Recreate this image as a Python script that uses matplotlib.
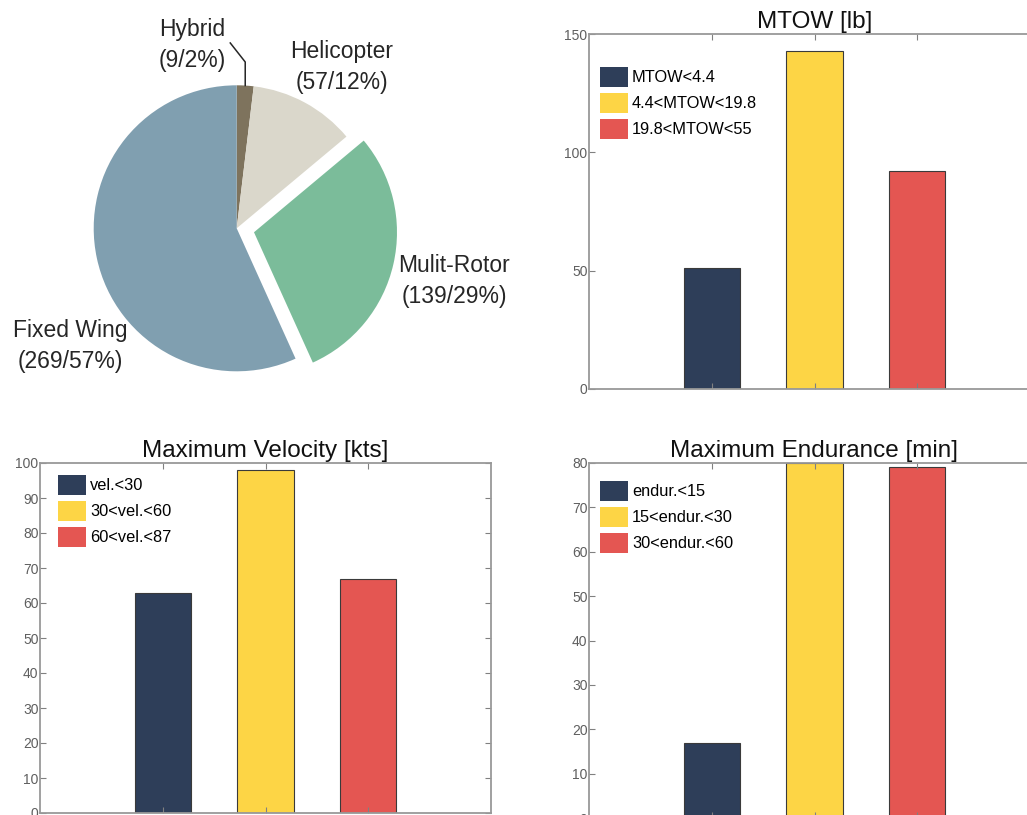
import matplotlib
matplotlib.use("Agg")
import matplotlib.pyplot as plt
import numpy as np

plt.rcParams['font.family'] = ['Liberation Sans', 'DejaVu Sans']

# Pie data
uav_types = ["Hybrid", "Helicopter", "Mulit-Rotor", "Fixed Wing"]
uav_counts = [9, 57, 139, 269]
pie_colors = ["#7E735D", "#DAD7CB", "#7BBC9A", "#809FB0"]

# Bar chart data
mtow_labels = ["MTOW<4.4", "4.4<MTOW<19.8", "19.8<MTOW<55"]
mtow_values = [51, 143, 92]

vel_labels = ["vel.<30", "30<vel.<60", "60<vel.<87"]
vel_values = [63, 98, 67]

endur_labels = ["endur.<15", "15<endur.<30", "30<endur.<60"]
endur_values = [17, 80, 79]

bar_colors = ["#2E3E59", "#FDD545", "#E45652"]

W, H = 1027, 815
fig = plt.figure(figsize=(W / 100, H / 100), dpi=100)


def px_axes(left, top, right, bottom):
    # axes rectangle given in pixel coords (origin top-left)
    return fig.add_axes([left / W, (H - bottom) / H, (right - left) / W, (bottom - top) / H])


# ---- pie ----
cx, cy, r = 236.7, 228.3, 143.0
pax = px_axes(0, 0, 500, 420)
total = sum(uav_counts)
explode = [0, 0, 0.124, 0]
wedges, _ = pax.pie(uav_counts, colors=pie_colors, startangle=90, counterclock=False,
                    explode=explode, wedgeprops=dict(linewidth=0))
pax.set_aspect('auto')
pax.set_xlim(-cx / r, (500 - cx) / r)
pax.set_ylim(-(420 - cy) / r, cy / r)
pax.axis('off')

label_pos = [(-0.313, 1.28), (0.736, 1.13), (1.52, -0.369), (-1.166, -0.823)]
for name, n, (lx, ly) in zip(uav_types, uav_counts, label_pos):
    pct = round(100 * n / total)
    pax.text(lx, ly, f"{name}\n({n}/{pct}%)", ha='center', va='center',
             fontsize=16.5, color='#262626', linespacing=1.45)

# leader line for the small hybrid slice
w = wedges[0]
mid = np.deg2rad((w.theta1 + w.theta2) / 2)
ex, ey = np.cos(mid), np.sin(mid)
pax.plot([ex, ex, -0.045], [ey, 1.163, 1.296], color='#262626', lw=1.1)


# ---- bar charts ----
def bar_panel(rect, title, labels, values, ymax, ystep, leg_off, right_ticks=True):
    ax = px_axes(*rect)
    x = [1, 2, 3]
    bars = ax.bar(x, values, width=0.55, color=bar_colors, edgecolor='#3a3a3a', linewidth=0.8)
    ax.set_xlim(-0.2, 4.2)
    ax.set_ylim(0, ymax)
    ax.set_xticks(x)
    ax.set_xticklabels([])
    ax.set_yticks(range(0, ymax + 1, ystep))
    ax.tick_params(direction='in', length=4, width=0.8, color='#808080',
                   labelsize=10, labelcolor='#5f5f5f', pad=1,
                   top=True, right=right_ticks)
    for s in ax.spines.values():
        s.set_color('#999999')
        s.set_linewidth(1.3)
    ax.set_title(title, fontsize=17.5, color='#111111', pad=4)
    wpx = rect[2] - rect[0]
    hpx = rect[3] - rect[1]
    leg = ax.legend(bars, labels, loc='upper left', frameon=False, fontsize=11.8,
                    bbox_to_anchor=(leg_off[0] / wpx, 1 - leg_off[1] / hpx),
                    borderaxespad=0, borderpad=0, handlelength=1.7, handleheight=1.5,
                    labelspacing=0.36, handletextpad=0.25)
    for h in leg.legend_handles:
        h.set_linewidth(0)
    return ax


bar_panel((589, 34, 1040, 389), "MTOW [lb]", mtow_labels, mtow_values, 150, 50, (11, 33))
bar_panel((40, 463, 491, 813), "Maximum Velocity [kts]", vel_labels, vel_values, 100, 10, (18, 12))
bar_panel((589, 463, 1040, 818), "Maximum Endurance [min]", endur_labels, endur_values, 80, 10, (11, 18))

fig.savefig("out.png", dpi=100)
